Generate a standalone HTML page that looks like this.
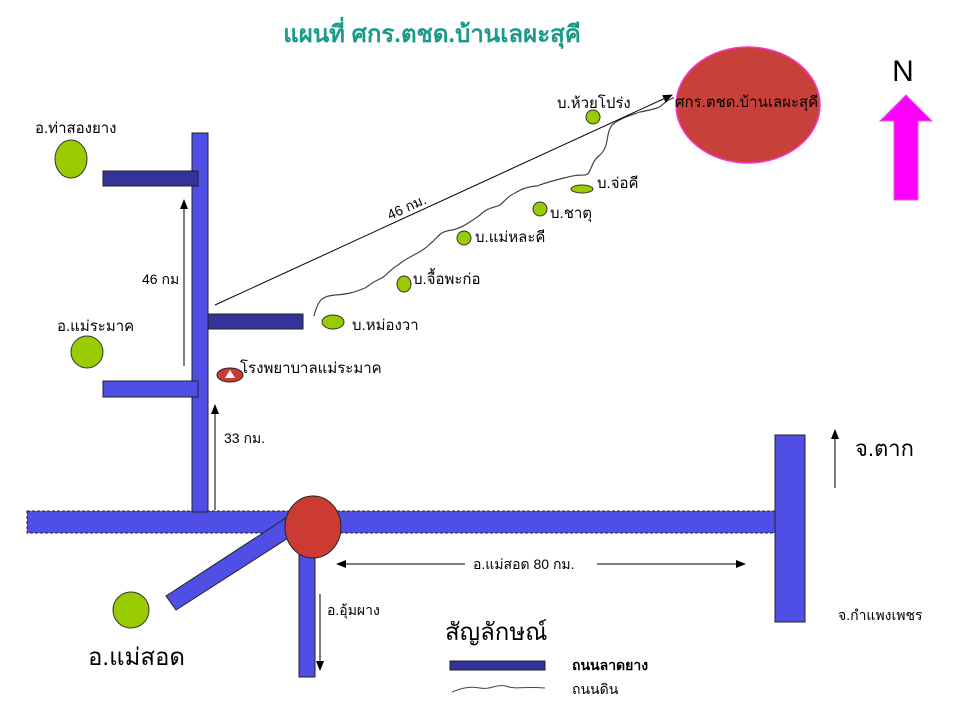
<!DOCTYPE html>
<html><head><meta charset="utf-8"><style>
body{margin:0;background:#fff}
svg{display:block}
text{font-family:"Liberation Sans","Noto Sans CJK SC",sans-serif;fill:#000}
</style></head><body>
<svg width="960" height="720" viewBox="0 0 960 720" xmlns="http://www.w3.org/2000/svg">
<defs>
<marker id="a" markerWidth="10" markerHeight="8" refX="9" refY="4" orient="auto" markerUnits="userSpaceOnUse"><path d="M0,0 L10,4 L0,8 z" fill="#000"/></marker>
</defs>
<text x="432" y="42" font-size="24" font-weight="bold" text-anchor="middle" style="fill:#1a9a8a">แผนที่ ศกร.ตชด.บ้านเลผะสุคี</text>
<!-- roads -->
<rect x="27" y="511" width="752" height="22" fill="#4f4fe6" stroke="#222" stroke-dasharray="3,2" stroke-width="1"/>
<rect x="192" y="133" width="16" height="379" fill="#4f4fe6" stroke="#222" stroke-width="1"/>
<rect x="103" y="171" width="95" height="15" fill="#333399" stroke="#222"/>
<rect x="103" y="381" width="95" height="16" fill="#4f4fe6" stroke="#222"/>
<rect x="208" y="314" width="95" height="15" fill="#333399" stroke="#222"/>
<rect x="299" y="545" width="16" height="132" fill="#4f4fe6" stroke="#222"/>
<polygon points="166,596 286,518 296,533 176,610" fill="#4f4fe6" stroke="#222"/>
<rect x="775" y="435" width="30" height="187" fill="#4f4fe6" stroke="#222"/>
<ellipse cx="313" cy="527" rx="28" ry="31" fill="#cc3b33" stroke="#222"/>
<!-- dirt road -->
<path d="M314,316 C318,300 322,296 335,295 C350,294 355,292 365,288 C372,284 370,283 382,278 C390,272 392,268 398,265 C410,255 420,254 430,244 C440,236 438,232 452,230 C462,228 470,222 480,215 C488,207 494,208 500,205 C506,200 508,196 515,193 C520,190 525,187 537,186 C545,183 552,181 560,179 C572,176 575,175 585,175 C592,174 590,162 600,155 C610,145 605,135 612,125 C620,118 632,115 640,112 C650,110 660,108 662,105 C668,100 672,98 674,98" fill="none" stroke="#444" stroke-width="1.2"/>
<!-- big circle -->
<ellipse cx="748" cy="105" rx="72" ry="58" fill="#c8403a" stroke="#ff33cc" stroke-width="1.5"/>
<text x="675" y="107" font-size="15">ศกร.ตชด.บ้านเลผะสุคี</text>
<!-- N arrow -->
<text x="903" y="81" font-size="30" text-anchor="middle">N</text>
<polygon points="906,95 932,121 918,121 918,200 894,200 894,121 880,121" fill="#ff00ff" stroke="#cc66cc"/>
<!-- arrows -->
<line x1="215" y1="305" x2="672" y2="95" stroke="#000" marker-end="url(#a)"/>
<text x="0" y="0" font-size="14" transform="translate(390,220) rotate(-24.5)">46 กม.</text>
<line x1="184" y1="366" x2="184" y2="200" stroke="#000" marker-end="url(#a)"/>
<text x="142" y="284" font-size="14">46 กม</text>
<line x1="215" y1="510" x2="215" y2="405" stroke="#000" marker-end="url(#a)"/>
<text x="224" y="443" font-size="14">33 กม.</text>
<line x1="465" y1="564" x2="337" y2="564" stroke="#000" marker-end="url(#a)"/>
<line x1="597" y1="564" x2="745" y2="564" stroke="#000" marker-end="url(#a)"/>
<text x="473" y="569" font-size="14">อ.แม่สอด  80 กม.</text>
<line x1="835" y1="488" x2="835" y2="430" stroke="#000" marker-end="url(#a)"/>
<text x="855" y="456" font-size="22">จ.ตาก</text>
<text x="838" y="620" font-size="14">จ.กำแพงเพชร</text>
<line x1="320" y1="594" x2="320" y2="670" stroke="#000" marker-end="url(#a)"/>
<text x="327" y="615" font-size="14">อ.อุ้มผาง</text>
<!-- green circles -->
<g fill="#99cc00" stroke="#333">
<ellipse cx="71" cy="159" rx="16" ry="19"/>
<ellipse cx="87" cy="352" rx="16" ry="16"/>
<ellipse cx="131" cy="610" rx="18" ry="18"/>
<ellipse cx="333" cy="322" rx="11" ry="7"/>
<ellipse cx="404" cy="284" rx="7" ry="8"/>
<ellipse cx="464" cy="238" rx="7" ry="7"/>
<ellipse cx="540" cy="209" rx="7" ry="7"/>
<ellipse cx="582" cy="189" rx="11" ry="4"/>
<ellipse cx="593" cy="117" rx="7" ry="7"/>
</g>
<text x="35" y="133" font-size="15">อ.ท่าสองยาง</text>
<text x="57" y="331" font-size="15">อ.แม่ระมาค</text>
<text x="88" y="665" font-size="24">อ.แม่สอด</text>
<text x="352" y="330" font-size="15">บ.หม่องวา</text>
<text x="413" y="284" font-size="15">บ.จื้อพะก่อ</text>
<text x="475" y="242" font-size="15">บ.แม่หละคี</text>
<text x="550" y="218" font-size="15">บ.ชาตุ</text>
<text x="597" y="188" font-size="15">บ.จ่อคี</text>
<text x="557" y="108" font-size="15">บ.ห้วยโปร่ง</text>
<!-- hospital -->
<ellipse cx="230" cy="375" rx="13" ry="7" fill="#cc3b33" stroke="#222"/>
<polygon points="230,370 235,378 225,378" fill="#fff"/>
<text x="240" y="373" font-size="15">โรงพยาบาลแม่ระมาค</text>
<!-- legend -->
<text x="445" y="640" font-size="24">สัญลักษณ์</text>
<rect x="450" y="661" width="95" height="9" fill="#333399" stroke="#222"/>
<text x="572" y="670" font-size="14" font-weight="bold">ถนนลาดยาง</text>
<path d="M452,692 C462,688 470,686 480,688 C490,690 496,684 506,686 C516,690 524,686 545,688" fill="none" stroke="#444"/>
<text x="572" y="694" font-size="14">ถนนดิน</text>
</svg>
</body></html>
